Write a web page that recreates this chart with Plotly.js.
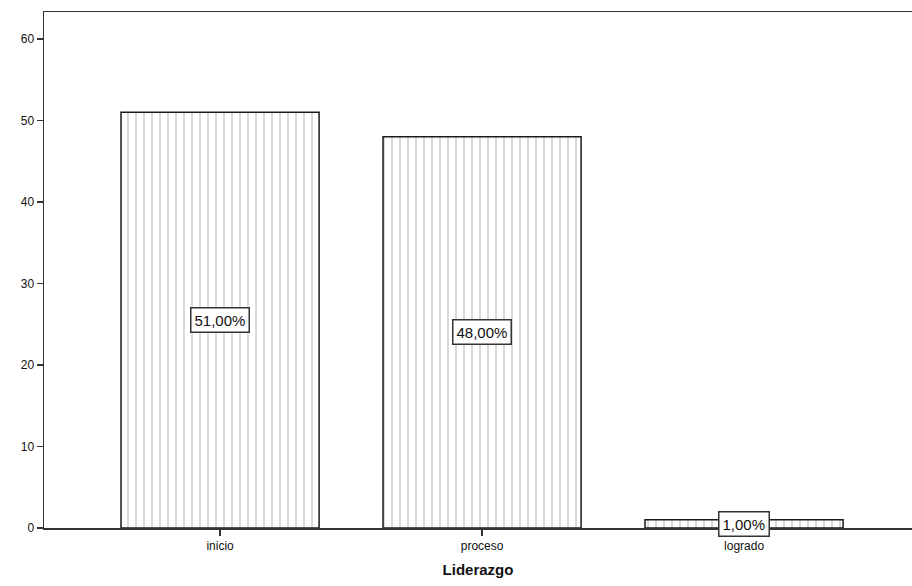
<!DOCTYPE html>
<html>
<head>
<meta charset="utf-8">
<script src="https://cdn.plot.ly/plotly-3.0.1.min.js"></script>
<style>html,body{margin:0;padding:0;background:#fff;}#chart{width:912px;height:586px;}</style>
</head>
<body>
<div id="chart"></div>
<script>
const categories = ["inicio", "proceso", "logrado"];
const counts = [51, 48, 1];
const percentLabels = ["51,00%", "48,00%", "1,00%"];
const yTicks = [0, 10, 20, 30, 40, 50, 60];

const trace = {
  type: "bar",
  x: categories,
  y: counts,
  width: 0.756,
  marker: {
    color: "#ffffff",
    line: {color: "#1a1a1a", width: 1.5},
    pattern: {shape: "|", fgcolor: "#b0b0b0", bgcolor: "#ffffff", size: 8, solidity: 0.12}
  },
  hoverinfo: "none"
};

const annotations = categories.map((c, i) => ({
  x: c, y: counts[i] / 2, xref: "x", yref: "y",
  text: percentLabels[i], showarrow: false,
  font: {family: "Liberation Sans, Arial, sans-serif", size: 15, color: "#111"},
  bgcolor: "#ffffff", bordercolor: "#333", borderwidth: 1.5, borderpad: 3
}));

const layout = {
  width: 912, height: 586,
  margin: {l: 44, r: 0, t: 12, b: 58},
  paper_bgcolor: "#ffffff", plot_bgcolor: "#ffffff",
  showlegend: false,
  xaxis: {
    type: "category", range: [-0.672, 2.641],
    showline: true, linecolor: "#333", linewidth: 1.5, mirror: true,
    ticks: "outside", ticklen: 6, tickcolor: "#333", tickwidth: 1.5,
    showgrid: false, zeroline: false,
    tickfont: {family: "Liberation Sans, Arial, sans-serif", size: 12, color: "#111"},
    title: {text: "<b>Liderazgo</b>", font: {family: "Liberation Sans, Arial, sans-serif", size: 15, color: "#111"}, standoff: 12}
  },
  yaxis: {
    range: [0, 63.3], tickvals: yTicks,
    showline: true, linecolor: "#333", linewidth: 1.5,
    ticks: "outside", ticklen: 6, tickcolor: "#333", tickwidth: 1.5,
    showgrid: false, zeroline: false,
    tickfont: {family: "Liberation Sans, Arial, sans-serif", size: 12, color: "#111"}
  },
  annotations: annotations
};

Plotly.newPlot("chart", [trace], layout, {displayModeBar: false, staticPlot: true});
</script>
</body>
</html>
